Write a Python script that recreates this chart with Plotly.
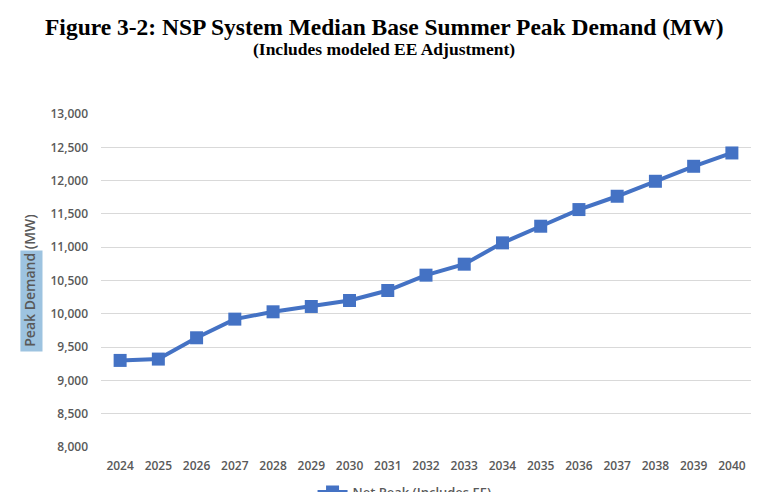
import plotly.graph_objects as go

years = [str(y) for y in range(2024, 2041)]
peak_mw = [9300, 9320, 9640, 9920, 10030, 10110, 10200, 10350, 10580,
           10745, 11065, 11315, 11565, 11765, 11990, 12215, 12415]
series_name = "Net Peak (Includes EE)"
y_ticks = list(range(8000, 13001, 500))

fig = go.Figure()
fig.add_trace(go.Scatter(
    x=years, y=peak_mw, name=series_name, mode="lines+markers",
    line=dict(color="#4472C4", width=4),
    marker=dict(symbol="square", size=13, color="#4472C4"),
))

fig.update_layout(
    width=768, height=492,
    margin=dict(l=93, r=25, t=106, b=53, autoexpand=False),
    paper_bgcolor="white", plot_bgcolor="white",
    showlegend=True,
    legend=dict(orientation="h", x=0.467, xanchor="center", y=-0.09, yanchor="top",
                font=dict(family="Open Sans", size=13, color="#595959", weight=600),
                itemwidth=30),
    annotations=[
        dict(text="<b>Figure 3-2: NSP System Median Base Summer Peak Demand (MW)</b>",
             xref="paper", yref="paper", x=0.436, y=1.0, yshift=87, showarrow=False,
             xanchor="center", yanchor="middle",
             font=dict(family="Liberation Serif", size=23.5, color="black")),
        dict(text="<b>(Includes modeled EE Adjustment)</b>",
             xref="paper", yref="paper", x=0.436, y=1.0, yshift=65, showarrow=False,
             xanchor="center", yanchor="middle",
             font=dict(family="Liberation Serif", size=17.5, color="black")),
    ],
    shapes=[dict(type="rect", xref="paper", yref="paper",
                 x0=-0.124, x1=-0.090, y0=0.287, y1=0.590,
                 fillcolor="#9DC3E0", line=dict(width=0), layer="below")],
)
fig.update_xaxes(type="category", range=[-0.5, 16.5], showgrid=False, showline=False,
                 ticks="", ticklabelstandoff=10,
                 tickfont=dict(family="Open Sans", size=12, color="#595959", weight=600))
fig.update_yaxes(range=[8000, 13000], tickvals=y_ticks, tickformat=",",
                 showgrid=True, gridcolor="#D9D9D9", gridwidth=1.3, zeroline=False,
                 showline=False, ticks="", ticklabelstandoff=12,
                 tickfont=dict(family="Open Sans", size=12, color="#595959", weight=600),
                 title=dict(text="Peak Demand (MW)", standoff=11,
                            font=dict(family="Open Sans", size=14, color="#595959", weight=600)))

fig.write_html("out.html")
